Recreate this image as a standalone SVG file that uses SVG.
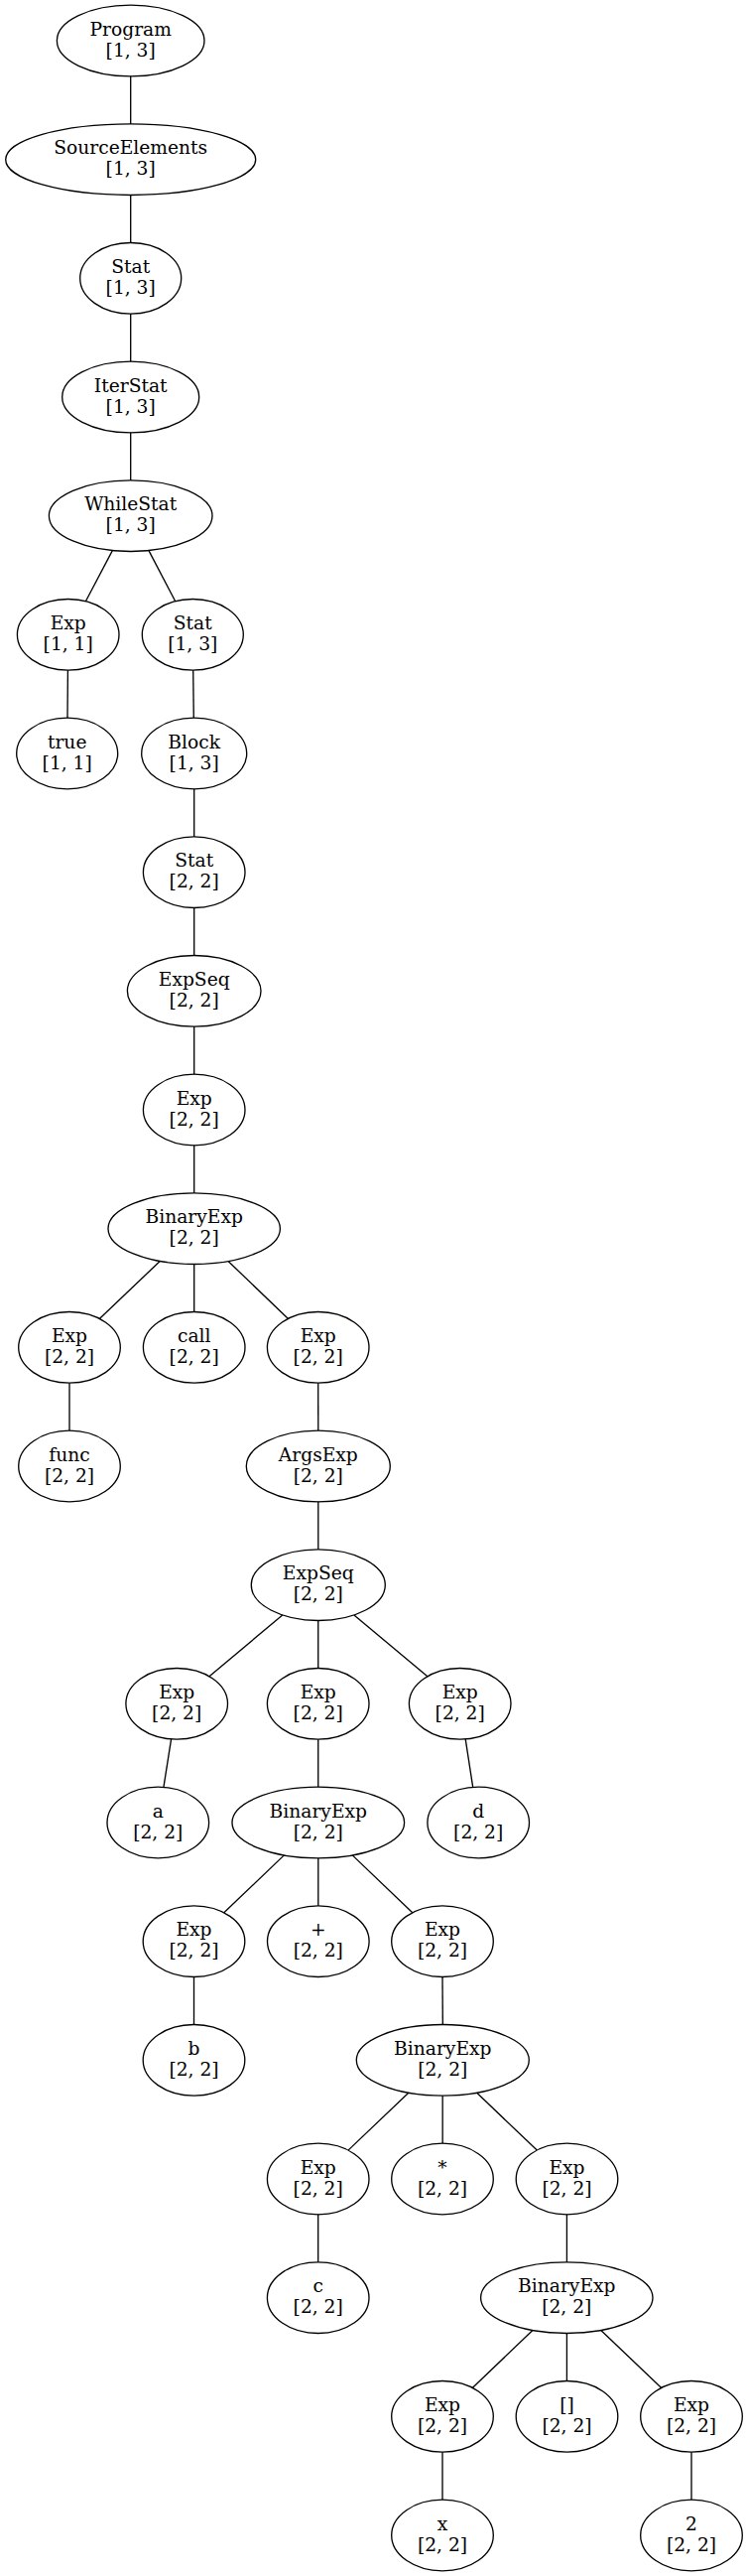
<svg xmlns="http://www.w3.org/2000/svg" width="753" height="2595" viewBox="0 0 753 2595">
<style>
.node ellipse{fill:none;stroke:#000;stroke-width:1.33}
.node text{font-family:"DejaVu Serif","Liberation Serif",serif;font-size:18.67px;fill:#000;text-anchor:middle}
#edges line{stroke:#000;stroke-width:1.33}
</style>
<rect x="0" y="0" width="753" height="2595" fill="#fff"/>
<g id="edges">
<line x1="131.7" y1="76.8" x2="131.7" y2="124.9"/>
<line x1="131.7" y1="196.5" x2="131.7" y2="244.5"/>
<line x1="131.7" y1="316.1" x2="131.7" y2="364.2"/>
<line x1="131.7" y1="435.8" x2="131.7" y2="483.9"/>
<line x1="113.33" y1="554.57" x2="86.39" y2="605.73"/>
<line x1="149.96" y1="554.58" x2="176.72" y2="605.73"/>
<line x1="68.4" y1="675.13" x2="68.0" y2="723.2"/>
<line x1="194.72" y1="675.13" x2="195.28" y2="723.2"/>
<line x1="195.7" y1="794.8" x2="195.7" y2="842.9"/>
<line x1="195.7" y1="914.5" x2="195.7" y2="962.5"/>
<line x1="195.7" y1="1034.1" x2="195.7" y2="1082.2"/>
<line x1="195.7" y1="1153.8" x2="195.7" y2="1201.9"/>
<line x1="161.2" y1="1270.51" x2="100.33" y2="1328.46"/>
<line x1="195.7" y1="1273.47" x2="195.7" y2="1321.53"/>
<line x1="230.04" y1="1270.54" x2="290.48" y2="1328.4"/>
<line x1="70" y1="1393.13" x2="70" y2="1441.2"/>
<line x1="320.7" y1="1393.13" x2="320.8" y2="1441.2"/>
<line x1="320.8" y1="1512.8" x2="320.8" y2="1560.87"/>
<line x1="284.74" y1="1626.93" x2="211.0" y2="1688.8"/>
<line x1="320.75" y1="1632.47" x2="320.75" y2="1680.53"/>
<line x1="356.92" y1="1626.91" x2="430.86" y2="1688.83"/>
<line x1="172.58" y1="1751.91" x2="164.92" y2="1800.42"/>
<line x1="320.75" y1="1752.13" x2="320.75" y2="1800.2"/>
<line x1="469.2" y1="1751.92" x2="476.7" y2="1800.42"/>
<line x1="286.39" y1="1868.87" x2="225.77" y2="1926.76"/>
<line x1="320.8" y1="1871.8" x2="320.8" y2="1919.87"/>
<line x1="355.19" y1="1868.87" x2="415.75" y2="1926.76"/>
<line x1="195.5" y1="1991.47" x2="195.5" y2="2039.53"/>
<line x1="446" y1="1991.47" x2="446.3" y2="2039.53"/>
<line x1="411.81" y1="2108.2" x2="351.01" y2="2166.12"/>
<line x1="446.15" y1="2111.13" x2="446.15" y2="2159.2"/>
<line x1="480.7" y1="2108.21" x2="541.25" y2="2166.09"/>
<line x1="320.7" y1="2230.8" x2="320.7" y2="2278.87"/>
<line x1="571.4" y1="2230.8" x2="571.4" y2="2278.87"/>
<line x1="536.89" y1="2347.53" x2="476.27" y2="2405.42"/>
<line x1="571.4" y1="2350.47" x2="571.4" y2="2398.53"/>
<line x1="605.8" y1="2347.51" x2="666.67" y2="2405.46"/>
<line x1="446" y1="2470.13" x2="446" y2="2518.2"/>
<line x1="697" y1="2470.13" x2="697" y2="2518.2"/>
</g>
<g id="n0" class="node"><ellipse cx="131.7" cy="41" rx="74.3" ry="35.8"/><text x="131.7" y="35.7">Program</text><text x="131.7" y="56.5">[1, 3]</text></g>
<g id="n1" class="node"><ellipse cx="131.7" cy="160.67" rx="126" ry="35.8"/><text x="131.7" y="155.37">SourceElements</text><text x="131.7" y="176.17">[1, 3]</text></g>
<g id="n2" class="node"><ellipse cx="131.7" cy="280.33" rx="51" ry="35.8"/><text x="131.7" y="275.03">Stat</text><text x="131.7" y="295.83">[1, 3]</text></g>
<g id="n3" class="node"><ellipse cx="131.7" cy="400" rx="69" ry="35.8"/><text x="131.7" y="394.7">IterStat</text><text x="131.7" y="415.5">[1, 3]</text></g>
<g id="n4" class="node"><ellipse cx="131.7" cy="519.67" rx="82.3" ry="35.8"/><text x="131.7" y="514.37">WhileStat</text><text x="131.7" y="535.17">[1, 3]</text></g>
<g id="n5" class="node"><ellipse cx="68.7" cy="639.33" rx="51.3" ry="35.8"/><text x="68.7" y="634.03">Exp</text><text x="68.7" y="654.83">[1, 1]</text></g>
<g id="n6" class="node"><ellipse cx="67.7" cy="759" rx="51" ry="35.8"/><text x="67.7" y="753.7">true</text><text x="67.7" y="774.5">[1, 1]</text></g>
<g id="n7" class="node"><ellipse cx="194.3" cy="639.33" rx="51" ry="35.8"/><text x="194.3" y="634.03">Stat</text><text x="194.3" y="654.83">[1, 3]</text></g>
<g id="n8" class="node"><ellipse cx="195.7" cy="759" rx="53" ry="35.8"/><text x="195.7" y="753.7">Block</text><text x="195.7" y="774.5">[1, 3]</text></g>
<g id="n9" class="node"><ellipse cx="195.7" cy="878.67" rx="51.3" ry="35.8"/><text x="195.7" y="873.37">Stat</text><text x="195.7" y="894.17">[2, 2]</text></g>
<g id="n10" class="node"><ellipse cx="195.7" cy="998.33" rx="67.3" ry="35.8"/><text x="195.7" y="993.03">ExpSeq</text><text x="195.7" y="1013.83">[2, 2]</text></g>
<g id="n11" class="node"><ellipse cx="195.7" cy="1118" rx="51.3" ry="35.8"/><text x="195.7" y="1112.7">Exp</text><text x="195.7" y="1133.5">[2, 2]</text></g>
<g id="n12" class="node"><ellipse cx="195.7" cy="1237.67" rx="86.7" ry="35.8"/><text x="195.7" y="1232.37">BinaryExp</text><text x="195.7" y="1253.17">[2, 2]</text></g>
<g id="n13" class="node"><ellipse cx="70" cy="1357.33" rx="51.3" ry="35.8"/><text x="70" y="1352.03">Exp</text><text x="70" y="1372.83">[2, 2]</text></g>
<g id="n14" class="node"><ellipse cx="70" cy="1477" rx="51.3" ry="35.8"/><text x="70" y="1471.7">func</text><text x="70" y="1492.5">[2, 2]</text></g>
<g id="n15" class="node"><ellipse cx="195.7" cy="1357.33" rx="51.3" ry="35.8"/><text x="195.7" y="1352.03">call</text><text x="195.7" y="1372.83">[2, 2]</text></g>
<g id="n16" class="node"><ellipse cx="320.7" cy="1357.33" rx="51.3" ry="35.8"/><text x="320.7" y="1352.03">Exp</text><text x="320.7" y="1372.83">[2, 2]</text></g>
<g id="n17" class="node"><ellipse cx="320.8" cy="1477" rx="72.5" ry="35.8"/><text x="320.8" y="1471.7">ArgsExp</text><text x="320.8" y="1492.5">[2, 2]</text></g>
<g id="n18" class="node"><ellipse cx="320.8" cy="1596.67" rx="67.5" ry="35.8"/><text x="320.8" y="1591.37">ExpSeq</text><text x="320.8" y="1612.17">[2, 2]</text></g>
<g id="n19" class="node"><ellipse cx="178.2" cy="1716.33" rx="51.3" ry="35.8"/><text x="178.2" y="1711.03">Exp</text><text x="178.2" y="1731.83">[2, 2]</text></g>
<g id="n20" class="node"><ellipse cx="159.3" cy="1836" rx="51.3" ry="35.8"/><text x="159.3" y="1830.7">a</text><text x="159.3" y="1851.5">[2, 2]</text></g>
<g id="n21" class="node"><ellipse cx="320.7" cy="1716.33" rx="51.3" ry="35.8"/><text x="320.7" y="1711.03">Exp</text><text x="320.7" y="1731.83">[2, 2]</text></g>
<g id="n22" class="node"><ellipse cx="320.8" cy="1836" rx="86.8" ry="35.8"/><text x="320.8" y="1830.7">BinaryExp</text><text x="320.8" y="1851.5">[2, 2]</text></g>
<g id="n23" class="node"><ellipse cx="463.7" cy="1716.33" rx="51.3" ry="35.8"/><text x="463.7" y="1711.03">Exp</text><text x="463.7" y="1731.83">[2, 2]</text></g>
<g id="n24" class="node"><ellipse cx="482.2" cy="1836" rx="51.3" ry="35.8"/><text x="482.2" y="1830.7">d</text><text x="482.2" y="1851.5">[2, 2]</text></g>
<g id="n25" class="node"><ellipse cx="195.5" cy="1955.67" rx="51.3" ry="35.8"/><text x="195.5" y="1950.37">Exp</text><text x="195.5" y="1971.17">[2, 2]</text></g>
<g id="n26" class="node"><ellipse cx="195.5" cy="2075.33" rx="51.3" ry="35.8"/><text x="195.5" y="2070.03">b</text><text x="195.5" y="2090.83">[2, 2]</text></g>
<g id="n27" class="node"><ellipse cx="320.8" cy="1955.67" rx="51.3" ry="35.8"/><text x="320.8" y="1950.37">+</text><text x="320.8" y="1971.17">[2, 2]</text></g>
<g id="n28" class="node"><ellipse cx="446" cy="1955.67" rx="51.3" ry="35.8"/><text x="446" y="1950.37">Exp</text><text x="446" y="1971.17">[2, 2]</text></g>
<g id="n29" class="node"><ellipse cx="446.3" cy="2075.33" rx="87" ry="35.8"/><text x="446.3" y="2070.03">BinaryExp</text><text x="446.3" y="2090.83">[2, 2]</text></g>
<g id="n30" class="node"><ellipse cx="320.7" cy="2195" rx="51.3" ry="35.8"/><text x="320.7" y="2189.7">Exp</text><text x="320.7" y="2210.5">[2, 2]</text></g>
<g id="n31" class="node"><ellipse cx="320.7" cy="2314.67" rx="51.3" ry="35.8"/><text x="320.7" y="2309.37">c</text><text x="320.7" y="2330.17">[2, 2]</text></g>
<g id="n32" class="node"><ellipse cx="446" cy="2195" rx="51.3" ry="35.8"/><text x="446" y="2189.7">*</text><text x="446" y="2210.5">[2, 2]</text></g>
<g id="n33" class="node"><ellipse cx="571.5" cy="2195" rx="51.3" ry="35.8"/><text x="571.5" y="2189.7">Exp</text><text x="571.5" y="2210.5">[2, 2]</text></g>
<g id="n34" class="node"><ellipse cx="571.3" cy="2314.67" rx="86.7" ry="35.8"/><text x="571.3" y="2309.37">BinaryExp</text><text x="571.3" y="2330.17">[2, 2]</text></g>
<g id="n35" class="node"><ellipse cx="446" cy="2434.33" rx="51.3" ry="35.8"/><text x="446" y="2429.03">Exp</text><text x="446" y="2449.83">[2, 2]</text></g>
<g id="n36" class="node"><ellipse cx="446" cy="2554" rx="51.3" ry="35.8"/><text x="446" y="2548.7">x</text><text x="446" y="2569.5">[2, 2]</text></g>
<g id="n37" class="node"><ellipse cx="571.5" cy="2434.33" rx="51.3" ry="35.8"/><text x="571.5" y="2429.03">[]</text><text x="571.5" y="2449.83">[2, 2]</text></g>
<g id="n38" class="node"><ellipse cx="697" cy="2434.33" rx="51.3" ry="35.8"/><text x="697" y="2429.03">Exp</text><text x="697" y="2449.83">[2, 2]</text></g>
<g id="n39" class="node"><ellipse cx="697" cy="2554" rx="51.3" ry="35.8"/><text x="697" y="2548.7">2</text><text x="697" y="2569.5">[2, 2]</text></g>
</svg>
